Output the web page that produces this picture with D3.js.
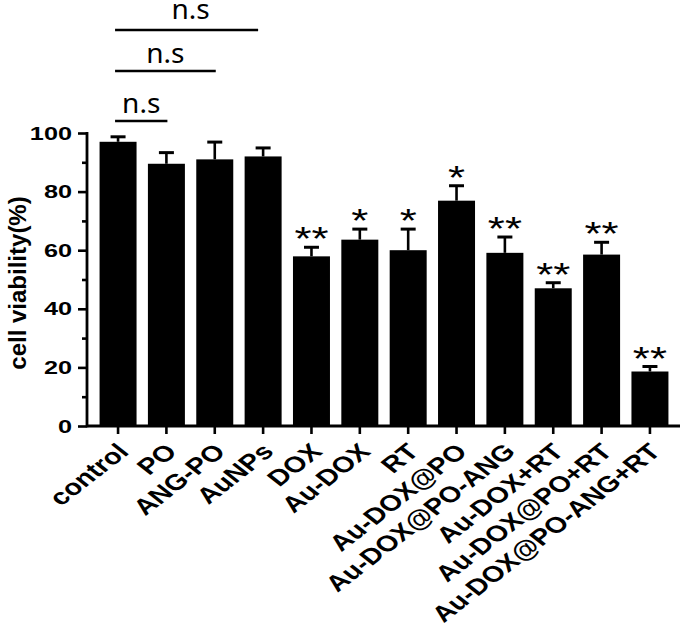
<!DOCTYPE html>
<html>
<head>
<meta charset="utf-8">
<script src="https://cdn.jsdelivr.net/npm/d3@7"></script>
<style>
  html, body { margin: 0; padding: 0; background: #fff; }
  svg { display: block; }
</style>
</head>
<body>
<svg id="chart" width="685" height="626"></svg>
<script>
// ---- data ----
const categories = ["control", "PO", "ANG-PO", "AuNPs", "DOX", "Au-DOX", "RT",
  "Au-DOX@PO", "Au-DOX@PO-ANG", "Au-DOX+RT", "Au-DOX@PO+RT", "Au-DOX@PO-ANG+RT"];
const means  = [97.0, 89.5, 91.0, 92.0, 57.9, 63.6, 60.0, 76.9, 59.1, 47.0, 58.5, 18.6];
const errors = [1.7, 3.8, 5.9, 2.9, 3.1, 3.6, 7.2, 5.1, 5.4, 1.9, 4.2, 1.7];
const significance = ["", "", "", "", "**", "*", "*", "*", "**", "**", "**", "**"];
const yTicks = [0, 20, 40, 60, 80, 100];
const yMinorTicks = [10, 30, 50, 70, 90];
const compareFrom = ["control", "control", "control"];
const compareTo = ["PO", "ANG-PO", "AuNPs"];
const compareLabels = ["n.s", "n.s", "n.s"];
const yTitle = "cell viability(%)";

// ---- layout ----
const svg = d3.select("#chart");
const axisX = 87, baseY = 426, topY = 133;
const SX = 1.33;  // horizontal stretch of the original figure's tick text
const SXL = 1.28; // horizontal stretch for category labels
const x = d3.scaleBand().domain(categories).range([94, 674]).paddingInner(0.235).paddingOuter(0.115);
const y = d3.scaleLinear().domain([0, 100]).range([baseY, topY]);
const font = "'Liberation Sans', Arial, sans-serif";

// bars
svg.append("g").selectAll("rect").data(categories).join("rect")
  .attr("x", d => x(d))
  .attr("y", (d, i) => y(means[i]))
  .attr("width", x.bandwidth())
  .attr("height", (d, i) => y(0) - y(means[i]))
  .attr("fill", "#000");

// error bars (upper only)
const eg = svg.append("g").attr("stroke", "#000").attr("fill", "none");
categories.forEach((c, i) => {
  const cx = x(c) + x.bandwidth() / 2;
  eg.append("line").attr("x1", cx).attr("x2", cx)
    .attr("y1", y(means[i])).attr("y2", y(means[i] + errors[i])).attr("stroke-width", 2.6);
  eg.append("line").attr("x1", cx - 7.5).attr("x2", cx + 7.5)
    .attr("y1", y(means[i] + errors[i])).attr("y2", y(means[i] + errors[i])).attr("stroke-width", 3);
});

// significance stars
svg.append("g").selectAll("text").data(categories).join("text")
  .attr("transform", (d, i) => `translate(${x(d) + x.bandwidth() / 2},${y(means[i] + errors[i]) + 3}) scale(${SX},1)`)
  .attr("text-anchor", "middle")
  .attr("font-family", font)
  .attr("font-size", 33)
  .attr("fill", "#000")
  .text((d, i) => significance[i]);

// y axis
const yAxis = d3.axisLeft(y).tickValues(yTicks).tickSize(9).tickPadding(4);
const gy = svg.append("g").attr("transform", `translate(${axisX},0)`).call(yAxis);
gy.select(".domain").remove();
gy.selectAll(".tick line").attr("stroke", "#000").attr("stroke-width", 2.6);
gy.selectAll(".tick text").attr("font-family", font).attr("font-weight", "bold")
  .attr("font-size", 19).attr("fill", "#000")
  .attr("x", -15 / SX).attr("transform", `scale(${SX},1)`);
const yMinor = d3.axisLeft(y).tickValues(yMinorTicks).tickSize(5).tickFormat("");
const gym = svg.append("g").attr("transform", `translate(${axisX},0)`).call(yMinor);
gym.select(".domain").remove();
gym.selectAll(".tick line").attr("stroke", "#000").attr("stroke-width", 2.6);
svg.append("line").attr("x1", axisX).attr("x2", axisX).attr("y1", topY - 1).attr("y2", baseY + 1.3)
  .attr("stroke", "#000").attr("stroke-width", 2.8);

// x axis
const xAxis = d3.axisBottom(x).tickSize(8).tickFormat("");
const gx = svg.append("g").attr("transform", `translate(0,${baseY})`).call(xAxis);
gx.select(".domain").remove();
gx.selectAll(".tick line").attr("stroke", "#000").attr("stroke-width", 2.6);
svg.append("line").attr("x1", axisX).attr("x2", 680).attr("y1", baseY).attr("y2", baseY)
  .attr("stroke", "#000").attr("stroke-width", 2.8);

svg.append("g").selectAll("text").data(categories).join("text")
  .attr("transform", d => `translate(${x(d) + x.bandwidth() / 2 + 12},${baseY + 27}) scale(${SXL},1) rotate(-45)`)
  .attr("text-anchor", "end")
  .attr("font-family", font).attr("font-weight", "bold").attr("font-size", 22.5)
  .attr("fill", "#000")
  .text(d => d);

// y title
svg.append("text")
  .attr("transform", `translate(26,283) rotate(-90)`)
  .attr("text-anchor", "middle")
  .attr("font-family", font).attr("font-weight", "bold").attr("font-size", 24)
  .attr("fill", "#000")
  .text(yTitle);

// comparison brackets
const bracketY = [121, 71, 30];
const labelGap = [8, 8, 11];
compareTo.forEach((t, i) => {
  const x1 = x(compareFrom[i]) + x.bandwidth() / 2 - 3;
  const x2 = x(t) + x.bandwidth() / 2 + (i === 2 ? -5 : 1);
  svg.append("line").attr("x1", x1).attr("x2", x2).attr("y1", bracketY[i]).attr("y2", bracketY[i])
    .attr("stroke", "#000").attr("stroke-width", 2.6);
  svg.append("text").attr("x", (x1 + x2) / 2 + (i === 2 ? 4 : 0)).attr("y", bracketY[i] - labelGap[i])
    .attr("text-anchor", "middle")
    .attr("font-family", "'Noto Sans', sans-serif").attr("font-size", 28)
    .attr("fill", "#000")
    .text(compareLabels[i]);
});
</script>
</body>
</html>
